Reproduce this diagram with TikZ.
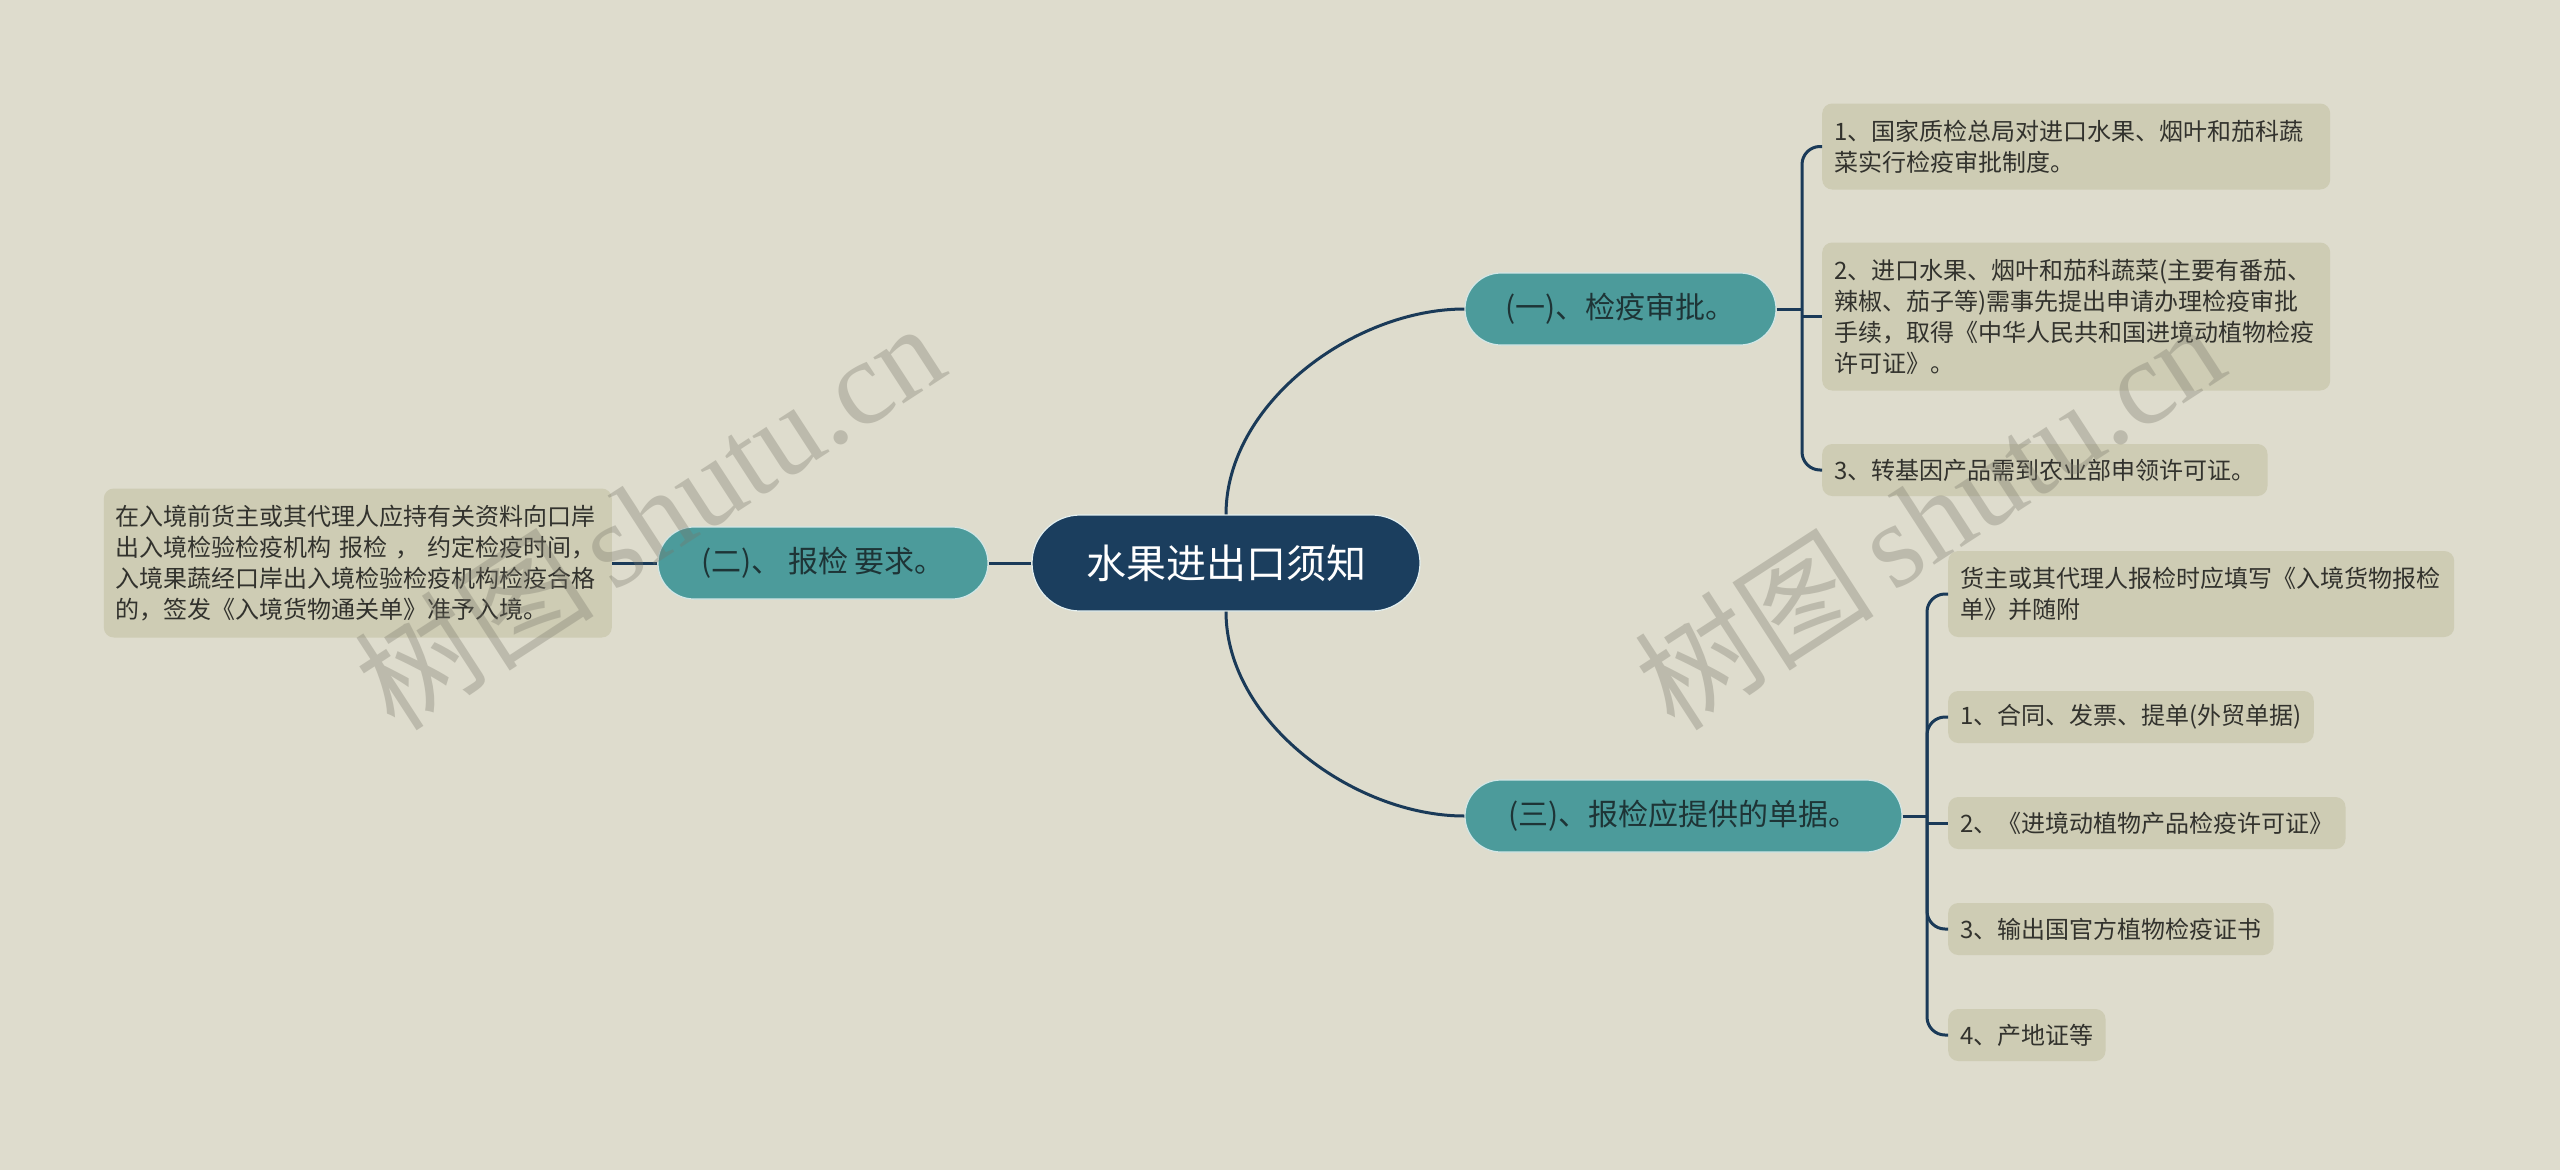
\documentclass[tikz,border=0pt]{standalone}
\usepackage{fontspec}
\setmainfont{Noto Sans CJK SC}
\newfontfamily\wmserif{Liberation Serif}
\definecolor{bgc}{RGB}{222,220,205}
\definecolor{leafc}{RGB}{206,204,180}
\definecolor{tealc}{RGB}{76,155,155}
\definecolor{rootc}{RGB}{27,62,94}
\definecolor{linec}{RGB}{26,58,88}
\definecolor{btext}{RGB}{30,52,54}
\definecolor{ltext}{RGB}{50,50,45}
\definecolor{wmc}{RGB}{120,118,105}
\begin{document}
\begin{tikzpicture}[x=1pt,y=-1pt,
  rootbox/.style={rectangle, fill=rootc, draw=white!85!tealc, line width=1.2pt, rounded corners=48pt,
     minimum width=388pt, minimum height=96pt, text=white, font=\fontsize{40}{48}\selectfont, inner sep=0pt},
  branchbox/.style={rectangle, fill=tealc, draw=white!75!tealc, line width=1.2pt, rounded corners=36pt,
     minimum height=72pt, text=btext, font=\fontsize{30}{36}\selectfont, inner sep=0pt},
  leafbox/.style={rectangle, fill=leafc, rounded corners=10pt, inner xsep=12pt, inner ysep=0pt,
     align=left, text=ltext, font=\fontsize{24}{31}\selectfont, minimum height=52pt},
  conn/.style={draw=linec, line width=3pt},
  wm/.style={text=wmc, opacity=0.33, rotate=33, inner sep=0pt}
]
\fill[bgc] (0,0) rectangle (2560,1170);
\useasboundingbox (0,0) rectangle (2560,1170);

% nodes
\node[rootbox] (root) at (1226,563) {水果进出口须知};
\node[branchbox, minimum width=311pt] (b1) at (1620.5,309) {(一)、检疫审批。};
\node[branchbox, minimum width=330pt] (b2) at (823,563) {(二)、 报检 要求。};
\node[branchbox, minimum width=437pt] (b3) at (1683.5,816) {(三)、报检应提供的单据。};

\node[leafbox, anchor=west, text width=484pt, minimum height=86pt] (l1) at (1822,146.5)
  {1、国家质检总局对进口水果、烟叶和茄科蔬\\菜实行检疫审批制度。};
\node[leafbox, anchor=west, text width=484pt, minimum height=148pt] (l2) at (1822,316.5)
  {2、进口水果、烟叶和茄科蔬菜(主要有番茄、\\辣椒、茄子等)需事先提出申请办理检疫审批\\手续，取得《中华人民共和国进境动植物检疫\\许可证》。};
\node[leafbox, anchor=west] (l3) at (1822,470) {3、转基因产品需到农业部申领许可证。};

\node[leafbox, anchor=east, text width=484pt, minimum height=149pt] (ll) at (612,563)
  {在入境前货主或其代理人应持有关资料向口岸\\出入境检验检疫机构 报检 ， 约定检疫时间，\\入境果蔬经口岸出入境检验检疫机构检疫合格\\的，签发《入境货物通关单》准予入境。};

\node[leafbox, anchor=west, text width=482pt, minimum height=86pt] (ba) at (1948,594)
  {货主或其代理人报检时应填写《入境货物报检\\单》并随附};
\node[leafbox, anchor=west] (bb) at (1948,717) {1、合同、发票、提单(外贸单据)};
\node[leafbox, anchor=west] (bc) at (1948,823) {2、《进境动植物产品检疫许可证》};
\node[leafbox, anchor=west] (bd) at (1948,929) {3、输出国官方植物检疫证书};
\node[leafbox, anchor=west] (be) at (1948,1035) {4、产地证等};

\coordinate (j1) at (1802,309);
\coordinate (j3) at (1927,816);

% connectors
\draw[conn] (root.west) -- (b2.east);
\draw[conn] (b2.west) -- (ll.east);
\draw[conn] (root.north) to[out=90,in=180,looseness=0.9] (b1.west);
\draw[conn] (root.south) to[out=-90,in=180,looseness=0.9] (b3.west);

\draw[conn] (b1.east) -- (j1);
\draw[conn, rounded corners=18pt] (j1) |- (l1.west);
\draw[conn] (l2.west -| j1) -- (l2.west);
\draw[conn, rounded corners=18pt] (j1) |- (l3.west);

\draw[conn] (b3.east) -- (j3);
\draw[conn, rounded corners=18pt] (j3) |- (ba.west);
\draw[conn, rounded corners=18pt] (j3) |- (bb.west);
\draw[conn] (bc.west -| j3) -- (bc.west);
\draw[conn, rounded corners=18pt] (j3) |- (bd.west);
\draw[conn, rounded corners=18pt] (j3) |- (be.west);

% watermarks
\node[wm] (wm1) at (649,515) {\fontsize{120}{124}\selectfont 树图\,{\wmserif shutu.cn}};
\node[wm] (wm2) at (1929,515) {\fontsize{120}{124}\selectfont 树图\,{\wmserif shutu.cn}};
\end{tikzpicture}
\end{document}
